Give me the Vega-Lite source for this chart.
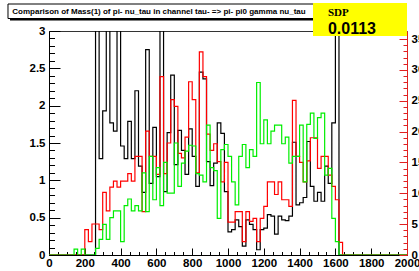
{
"$schema": "https://vega.github.io/schema/vega-lite/v6.json",
"width": 358, "height": 224,
"autosize": {"type": "none"},
"padding": {"left": 49, "top": 31, "right": 12, "bottom": 16},
"background": "white",
"config": {
 "view": {"stroke": "#333", "strokeWidth": 1},
 "axis": {"labelFont": "Liberation Sans", "labelFontWeight": "bold", "labelFontSize": 11.5, "labelColor": "#000", "grid": false, "title": null, "domainColor": "#000", "tickColor": "#000", "labelFlush": false, "labelOverlap": false}
},
"data": {"values": [
{"m":0,"b":0,"r":0,"g":0},{"m":20,"b":0,"r":0,"g":0},{"m":40,"b":0,"r":0,"g":0},{"m":60,"b":0,"r":0,"g":0},{"m":80,"b":0,"r":0,"g":0},
{"m":100,"b":0,"r":0,"g":0},{"m":120,"b":0,"r":0,"g":0},{"m":140,"b":0,"r":0,"g":0.08},{"m":160,"b":0,"r":0,"g":0},{"m":180,"b":0,"r":0,"g":0.08},
{"m":200,"b":0,"r":0.34,"g":0},{"m":220,"b":0,"r":0.18,"g":0},{"m":240,"b":0,"r":0.415,"g":0},{"m":260,"b":3.5,"r":0.415,"g":0.09},{"m":280,"b":1.29,"r":0.34,"g":0.21},
{"m":300,"b":1.93,"r":0.84,"g":0.41},{"m":320,"b":3.5,"r":0.59,"g":0.21},{"m":340,"b":1.77,"r":0.91,"g":0.5},{"m":360,"b":1.66,"r":0.99,"g":0.59},{"m":380,"b":3.5,"r":0.91,"g":0.59},
{"m":400,"b":1.46,"r":0.99,"g":0.18},{"m":420,"b":1.29,"r":0.99,"g":0.66},{"m":440,"b":1.79,"r":1.09,"g":0.75},{"m":460,"b":1.29,"r":0.99,"g":0.59},{"m":480,"b":2.2,"r":1.32,"g":0.66},
{"m":500,"b":1.19,"r":1.32,"g":0.59},{"m":520,"b":0.84,"r":0.58,"g":1.1},{"m":540,"b":2.75,"r":1.66,"g":0.58},{"m":560,"b":0.96,"r":1.32,"g":1.32},{"m":580,"b":1.71,"r":1.32,"g":0.74},
{"m":600,"b":1.05,"r":1.08,"g":1.17},{"m":620,"b":3.1,"r":2.39,"g":0.66},{"m":640,"b":0.85,"r":1.09,"g":1.24},{"m":660,"b":1.64,"r":1.5,"g":0.83},{"m":680,"b":2.41,"r":2.08,"g":0.83},
{"m":700,"b":1.21,"r":1.99,"g":1.5},{"m":720,"b":1.67,"r":1.36,"g":0.92},{"m":740,"b":1.4,"r":1.3,"g":1.23},{"m":760,"b":1.08,"r":1.58,"g":1.39},{"m":780,"b":1.69,"r":2.32,"g":1.47},
{"m":800,"b":1.32,"r":2.08,"g":1.46},{"m":820,"b":0.92,"r":1.1,"g":1.09},{"m":840,"b":2.45,"r":2.72,"g":1.07},{"m":860,"b":2.36,"r":2.39,"g":0.98},{"m":880,"b":1.25,"r":1.62,"g":1.74},
{"m":900,"b":0.93,"r":1.4,"g":1.17},{"m":920,"b":1.23,"r":1.49,"g":1.13},{"m":940,"b":1.77,"r":1.25,"g":0.49},{"m":960,"b":1.63,"r":0.98,"g":1.41},{"m":980,"b":0.85,"r":1.24,"g":1.48},
{"m":1000,"b":0.31,"r":0.44,"g":1.32},{"m":1020,"b":0.34,"r":0.44,"g":0.98},{"m":1040,"b":0.47,"r":0.58,"g":0.67},{"m":1060,"b":0.38,"r":0.58,"g":1.32},{"m":1080,"b":0.12,"r":0.18,"g":1.48},
{"m":1100,"b":0.47,"r":0.58,"g":1.17},{"m":1120,"b":0.41,"r":0.45,"g":1.41},{"m":1140,"b":0.34,"r":0.49,"g":1.32},{"m":1160,"b":0.07,"r":0.18,"g":2.31},{"m":1180,"b":0.34,"r":0.49,"g":1.49},
{"m":1200,"b":0.36,"r":0.65,"g":1.81},{"m":1220,"b":0.54,"r":0.98,"g":1.49},{"m":1240,"b":0.52,"r":0.98,"g":1.66},{"m":1260,"b":0.28,"r":0.81,"g":1.74},{"m":1280,"b":0.52,"r":0.98,"g":1.74},
{"m":1300,"b":0.47,"r":0.74,"g":1.49},{"m":1320,"b":0.46,"r":0.74,"g":1.58},{"m":1340,"b":0.52,"r":0.65,"g":1.23},{"m":1360,"b":1.51,"r":2.07,"g":1.32},{"m":1380,"b":0.67,"r":1.32,"g":1.32},
{"m":1400,"b":0.7,"r":1.24,"g":1.74},{"m":1420,"b":0.77,"r":0.98,"g":0.98},{"m":1440,"b":1.52,"r":1.26,"g":1.75},{"m":1460,"b":0.92,"r":1.57,"g":1.9},{"m":1480,"b":0.72,"r":1.57,"g":1.56},
{"m":1500,"b":0.84,"r":1.16,"g":1.84},{"m":1520,"b":0.72,"r":1.32,"g":1.9},{"m":1540,"b":1.19,"r":1.32,"g":1.07},{"m":1560,"b":0.96,"r":1.07,"g":1.16},{"m":1580,"b":1.77,"r":0.92,"g":0.49},
{"m":1600,"b":3.5,"r":0.74,"g":0.18},{"m":1620,"b":0,"r":0.17,"g":0},{"m":1640,"b":0,"r":0,"g":0},{"m":1660,"b":0,"r":0,"g":0},{"m":1680,"b":0,"r":0,"g":0},
{"m":1700,"b":0,"r":0,"g":0},{"m":1720,"b":0,"r":0,"g":0},{"m":1740,"b":0,"r":0,"g":0},{"m":1760,"b":0,"r":0,"g":0},{"m":1780,"b":0,"r":0,"g":0},
{"m":1800,"b":0,"r":0,"g":0},{"m":1820,"b":0,"r":0,"g":0},{"m":1840,"b":0,"r":0,"g":0},{"m":1860,"b":0,"r":0,"g":0},{"m":1880,"b":0,"r":0,"g":0},
{"m":1900,"b":0,"r":0,"g":0},{"m":1920,"b":0,"r":0,"g":0},{"m":1940,"b":0,"r":0,"g":0},{"m":1960,"b":0,"r":0,"g":0},{"m":1980,"b":0,"r":0,"g":0},
{"m":2000,"b":0,"r":0,"g":0}
]},
"resolve": {"scale": {"y": "independent"}, "axis": {"x": "independent", "y": "independent"}},
"layer": [
 {"mark": {"type": "line", "interpolate": "step-after", "clip": true, "color": "#000", "strokeWidth": 1.2},
  "encoding": {
   "x": {"field": "m", "type": "quantitative", "scale": {"domain": [0, 2000], "nice": false},
         "axis": {"orient": "bottom", "values": [0,200,400,600,800,1000,1200,1400,1600,1800,2000], "format": "d", "tickSize": -7, "labelPadding": 9}},
   "y": {"field": "b", "type": "quantitative", "scale": {"domain": [0, 3], "nice": false, "zero": false},
         "axis": {"orient": "left", "values": [0,0.5,1,1.5,2,2.5,3], "format": "~g", "tickSize": -11, "labelPadding": 15}}
  }},
 {"mark": {"type": "line", "interpolate": "step-after", "clip": true, "color": "#ff0000", "strokeWidth": 1.2},
  "encoding": {
   "x": {"field": "m", "type": "quantitative", "scale": {"domain": [0, 2000], "nice": false}, "axis": null},
   "y": {"field": "r", "type": "quantitative", "scale": {"domain": [0, 3], "nice": false, "zero": false}, "axis": null}
  }},
 {"mark": {"type": "line", "interpolate": "step-after", "clip": true, "color": "#00ee00", "strokeWidth": 1.2},
  "encoding": {
   "x": {"field": "m", "type": "quantitative", "scale": {"domain": [0, 2000], "nice": false}, "axis": null},
   "y": {"field": "g", "type": "quantitative", "scale": {"domain": [0, 3], "nice": false, "zero": false}, "axis": null}
  }},
 {"mark": {"type": "line", "strokeOpacity": 0},
  "encoding": {
   "x": {"field": "m", "type": "quantitative", "scale": {"domain": [0, 2000], "nice": false},
         "axis": {"orient": "bottom", "values": [0,50,100,150,250,300,350,450,500,550,650,700,750,850,900,950,1050,1100,1150,1250,1300,1350,1450,1500,1550,1650,1700,1750,1850,1900,1950], "labels": false, "domain": false, "tickSize": -3.5}},
   "y": {"field": "b", "type": "quantitative", "scale": {"domain": [0, 3], "nice": false, "zero": false},
         "axis": {"orient": "left", "values": [0.1,0.2,0.3,0.4,0.6,0.7,0.8,0.9,1.1,1.2,1.3,1.4,1.6,1.7,1.8,1.9,2.1,2.2,2.3,2.4,2.6,2.7,2.8,2.9], "labels": false, "domain": false, "tickSize": -5.5}}
  }},
 {"mark": {"type": "line", "strokeOpacity": 0},
  "encoding": {
   "x": {"field": "m", "type": "quantitative", "scale": {"domain": [0, 2000], "nice": false}, "axis": null},
   "y": {"field": "r", "type": "quantitative", "scale": {"domain": [0, 36.3], "nice": false, "zero": false},
         "axis": {"orient": "right", "values": [0,5,10,15,20,25,30,35], "format": "d", "tickSize": -8, "labelPadding": 12, "domainColor": "#e02020", "tickColor": "#e02020"}}
  }},
 {"mark": {"type": "line", "strokeOpacity": 0},
  "encoding": {
   "x": {"field": "m", "type": "quantitative", "scale": {"domain": [0, 2000], "nice": false}, "axis": null},
   "y": {"field": "r", "type": "quantitative", "scale": {"domain": [0, 36.3], "nice": false, "zero": false},
         "axis": {"orient": "right", "values": [1,2,3,4,6,7,8,9,11,12,13,14,16,17,18,19,21,22,23,24,26,27,28,29,31,32,33,34,36], "labels": false, "domain": false, "tickSize": -4, "tickColor": "#e02020"}}
  }},
 {"data": {"values": [{}]},
  "mark": {"type": "rect", "color": "#000"},
  "encoding": {
   "x": {"datum": -217.9, "type": "quantitative", "scale": {"domain": [0, 2000], "nice": false}, "axis": null},
   "x2": {"datum": 1536.3},
   "y": {"datum": 3.3348, "type": "quantitative", "scale": {"domain": [0, 3], "nice": false, "zero": false}, "axis": null},
   "y2": {"datum": 3.1406}
  }},
 {"data": {"values": [{}]},
  "mark": {"type": "rect", "fill": "#fff", "stroke": "#000", "strokeWidth": 1},
  "encoding": {
   "x": {"datum": -229.1, "type": "quantitative", "scale": {"domain": [0, 2000], "nice": false}, "axis": null},
   "x2": {"datum": 1525.1},
   "y": {"datum": 3.3616, "type": "quantitative", "scale": {"domain": [0, 3], "nice": false, "zero": false}, "axis": null},
   "y2": {"datum": 3.1674}
  }},
 {"data": {"values": [{}]},
  "mark": {"type": "text", "text": "Comparison of Mass(1) of pi- nu_tau in channel tau- => pi- pi0 gamma nu_tau", "font": "Liberation Sans", "fontWeight": "bold", "fontSize": 8, "align": "left", "baseline": "middle", "color": "#000"},
  "encoding": {
   "x": {"datum": -205, "type": "quantitative", "scale": {"domain": [0, 2000], "nice": false}, "axis": null},
   "y": {"datum": 3.2545, "type": "quantitative", "scale": {"domain": [0, 3], "nice": false, "zero": false}, "axis": null}
  }},
 {"data": {"values": [{}]},
  "mark": {"type": "rect", "fill": "#ffff00"},
  "encoding": {
   "x": {"datum": 1474.9, "type": "quantitative", "scale": {"domain": [0, 2000], "nice": false}, "axis": null},
   "x2": {"datum": 2000},
   "y": {"datum": 3.375, "type": "quantitative", "scale": {"domain": [0, 3], "nice": false, "zero": false}, "axis": null},
   "y2": {"datum": 2.933}
  }},
 {"data": {"values": [{}]},
  "mark": {"type": "text", "text": "SDP", "font": "Liberation Serif", "fontWeight": "bold", "fontSize": 11, "align": "left", "baseline": "middle", "color": "#000"},
  "encoding": {
   "x": {"datum": 1558.7, "type": "quantitative", "scale": {"domain": [0, 2000], "nice": false}, "axis": null},
   "y": {"datum": 3.241, "type": "quantitative", "scale": {"domain": [0, 3], "nice": false, "zero": false}, "axis": null}
  }},
 {"data": {"values": [{}]},
  "mark": {"type": "text", "text": "0.0113", "font": "Liberation Sans", "fontWeight": "bold", "fontSize": 16, "align": "center", "baseline": "middle", "color": "#000"},
  "encoding": {
   "x": {"datum": 1692.7, "type": "quantitative", "scale": {"domain": [0, 2000], "nice": false}, "axis": null},
   "y": {"datum": 3.027, "type": "quantitative", "scale": {"domain": [0, 3], "nice": false, "zero": false}, "axis": null}
  }}
]
}
